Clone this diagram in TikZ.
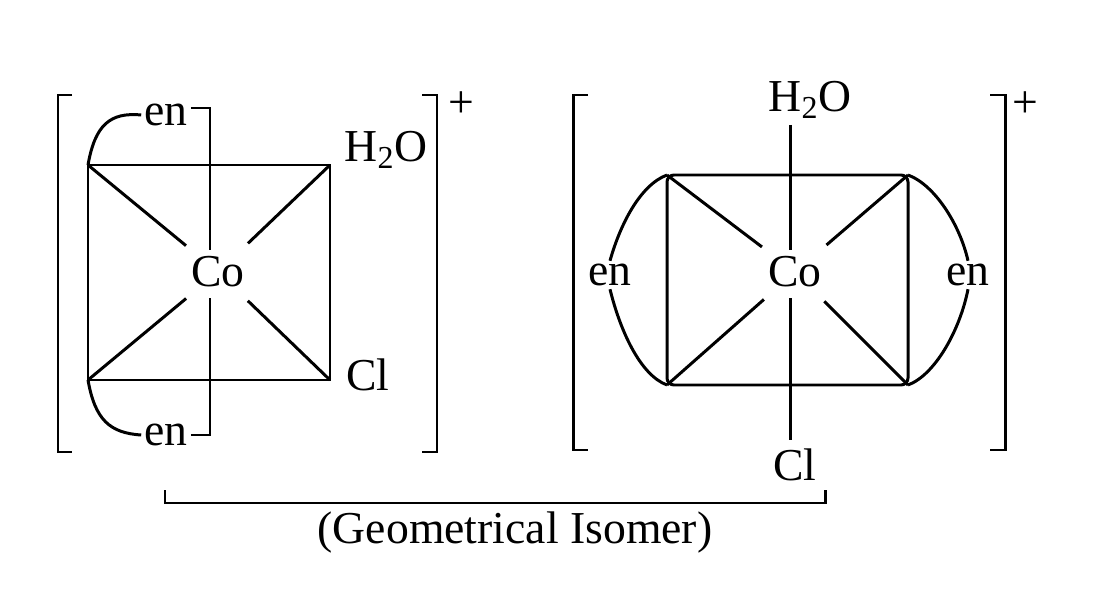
\documentclass[tikz,border=0pt]{standalone}
\usepackage{fontspec}
\setmainfont{Liberation Serif}
\begin{document}
\begin{tikzpicture}[x=0.02cm,y=-0.02cm,line width=1.7pt,
  lbl/.style={font=\fontsize{26}{30}\selectfont,inner sep=1pt},
  metal/.style={lbl,circle,minimum size=1.6cm}]
\useasboundingbox (0,0) rectangle (1095,598);

% left complex
\node[metal] (co1) at (218,272) {Co};
\coordinate (a1) at (88,165); \coordinate (b1) at (330,165);
\coordinate (c1) at (330,380); \coordinate (d1) at (88,380);
\draw (a1) -- (b1) -- (c1) -- (d1) -- cycle;
\foreach \p in {a1,b1,c1,d1} \draw (\p) -- (co1);
\node[lbl] (en1) at (166,115) {en};
\node[lbl] (en2) at (166,435) {en};
\coordinate (t1) at (210,108); \coordinate (u1) at (210,435);
\draw (en1.east |- t1) -- (t1) -- (210,250);
\draw (en2.east |- u1) -- (u1) -- (210,298);
\draw (a1) .. controls (95,125) and (110,112) .. (en1.west);
\draw (d1) .. controls (95,420) and (110,433) .. (en2.west);
\node[lbl] (aq1) at (386,150) {H\textsubscript{2}O};
\node[lbl] (cl1) at (368,375) {Cl};
\draw (72,95) -- (58,95) -- (58,452) -- (72,452);
\draw (422,95) -- (437,95) -- (437,452) -- (422,452);
\node[lbl] (p1) at (461,105) {+};

% right complex
\node[metal] (co2) at (795,272) {Co};
\coordinate (a2) at (667,175); \coordinate (b2) at (908,175);
\coordinate (c2) at (908,385); \coordinate (d2) at (667,385);
\draw[rounded corners=4pt] (a2) -- (b2) -- (c2) -- (d2) -- cycle;
\foreach \p in {a2,b2,c2,d2} \draw (\p) -- (co2);
\node[lbl] (aq2) at (810,100) {H\textsubscript{2}O};
\node[lbl] (cl2) at (795,465) {Cl};
\draw (790,125) -- (790,250);
\draw (790,298) -- (790,440);
\node[lbl] (en3) at (610,275) {en};
\node[lbl] (en4) at (968,275) {en};
\draw (a2) .. controls (640,185) and (620,225) .. (en3.north);
\draw (d2) .. controls (640,375) and (620,330) .. (en3.south);
\draw (b2) .. controls (935,185) and (960,225) .. (en4.north);
\draw (c2) .. controls (935,375) and (960,330) .. (en4.south);
\draw (588,95) -- (573,95) -- (573,450) -- (588,450);
\draw (990,95) -- (1005,95) -- (1005,450) -- (990,450);
\node[lbl] (p2) at (1025,105) {+};

% isomer brace
\draw (165,490) -- (165,503) -- (825,503) -- (825,490);
\node[lbl] (iso) at (515,533) {(Geometrical Isomer)};
\end{tikzpicture}
\end{document}
